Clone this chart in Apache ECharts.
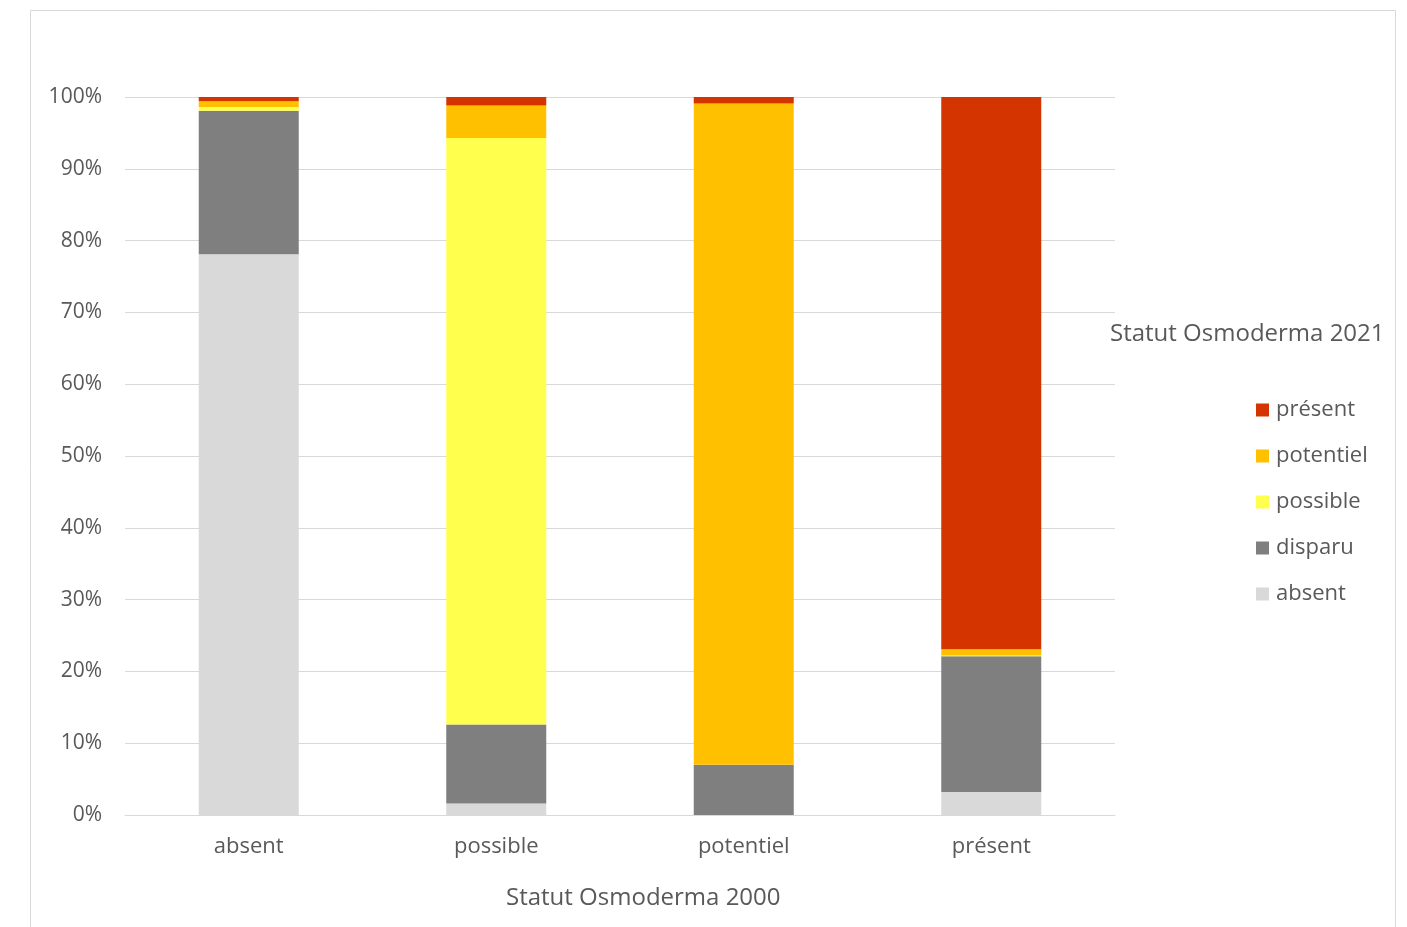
<!DOCTYPE html>
<html>
<head>
<meta charset="utf-8">
<script src="https://cdn.jsdelivr.net/npm/echarts@6/dist/echarts.min.js"></script>
<style>
  html, body { margin: 0; padding: 0; background: #fff; }
  #canvas { width: 1407px; height: 927px; }
</style>
</head>
<body>
<div id="canvas"></div>
<script>
// Statut 2000 (x axis)
var categories = ['absent', 'possible', 'potentiel', 'présent'];
// Statut 2021, % of each column (bottom to top)
var absentVals    = [78.1, 1.6, 0.0, 3.2];
var disparuVals   = [20.0, 11.0, 7.0, 18.9];
var possibleVals  = [0.5, 81.7, 0.0, 0.1];
var potentielVals = [0.8, 4.5, 92.1, 0.9];
var presentVals   = [0.6, 1.2, 0.9, 76.9];
var legendOrder = ['présent', 'potentiel', 'possible', 'disparu', 'absent'];

var font = '"Open Sans", Lato, sans-serif';
var txtColor = '#595959';

function serie(name, data, color) {
  return {
    name: name,
    type: 'bar',
    stack: 'total',
    barWidth: 100,
    data: data,
    itemStyle: { color: color },
    emphasis: { disabled: true }
  };
}

var myChart = echarts.init(document.getElementById('canvas'));
var option = {
  animation: false,
  backgroundColor: '#fff',
  textStyle: { fontFamily: font },
  graphic: [{
    type: 'rect',
    shape: { x: 30.5, y: 10.5, width: 1365, height: 920 },
    style: { fill: 'none', stroke: '#D9D9D9', lineWidth: 1 },
    silent: true
  }, {
    type: 'text',
    left: 1110, top: 322,
    style: { text: 'Statut Osmoderma 2021', fill: txtColor, font: '24px ' + font }
  }, {
    // x axis title, sits a bit right of the plot centre like the original
    type: 'text',
    left: 506, top: 886,
    style: { text: 'Statut Osmoderma 2000', fill: txtColor, font: '24px ' + font }
  }],
  grid: { left: 125, right: 292, top: 97, bottom: 112 },
  legend: {
    data: legendOrder,
    orient: 'vertical',
    left: 1251,
    top: 394,
    itemWidth: 13,
    itemHeight: 13,
    itemGap: 24,
    icon: 'rect',
    textStyle: { color: txtColor, fontSize: 22, fontFamily: font, padding: [0, 0, 0, 2] }
  },
  xAxis: {
    type: 'category',
    data: categories,
    axisLine: { lineStyle: { color: '#D9D9D9' } },
    axisTick: { show: false },
    axisLabel: { color: txtColor, fontSize: 22, margin: 21 }
  },
  yAxis: {
    type: 'value',
    min: 0,
    max: 100,
    interval: 10,
    axisLabel: { formatter: '{value}%', color: txtColor, fontSize: 21, margin: 23 },
    splitLine: { lineStyle: { color: '#D9D9D9' } }
  },
  series: [
    serie('absent', absentVals, '#D9D9D9'),
    serie('disparu', disparuVals, '#7F7F7F'),
    serie('possible', possibleVals, '#FFFF4D'),
    serie('potentiel', potentielVals, '#FFC000'),
    serie('présent', presentVals, '#D43500')
  ]
};
myChart.setOption(option);
</script>
</body>
</html>
